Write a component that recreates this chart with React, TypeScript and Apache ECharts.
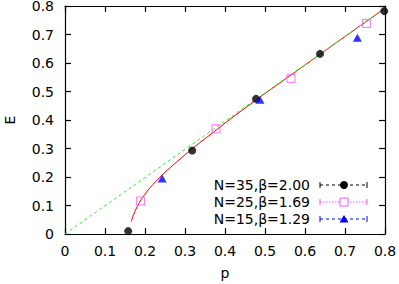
import React, { useEffect, useRef } from "react";
import * as echarts from "echarts";

const legendNames = ["N=35,β=2.00", "N=25,β=1.69", "N=15,β=1.29"];

const n35P = [0.158, 0.318, 0.4775, 0.6375, 0.798];
const n35E = [0.01, 0.293, 0.474, 0.632, 0.782];

const n25P = [0.189, 0.3775, 0.565, 0.754];
const n25E = [0.116, 0.369, 0.546, 0.739];

const n15P = [0.243, 0.4875, 0.731];
const n15E = [0.195, 0.471, 0.689];

const fitP = [0.166, 0.17, 0.175, 0.18, 0.185, 0.19, 0.2, 0.21, 0.22, 0.23, 0.24, 0.25, 0.26, 0.28, 0.3, 0.32, 0.34, 0.36, 0.38, 0.4, 0.43, 0.46, 0.5, 0.6, 0.7, 0.8];
const fitE = [0.044, 0.063, 0.08, 0.095, 0.108, 0.12, 0.14, 0.158, 0.174, 0.189, 0.203, 0.217, 0.229, 0.254, 0.278, 0.301, 0.324, 0.345, 0.367, 0.389, 0.421, 0.452, 0.493, 0.593, 0.693, 0.792];

const lineP = [0, 0.8];
const lineE = [0, 0.792];

const zip = (a: number[], b: number[]) => a.map((v, i) => [v, b[i]]);

const FONT = "DejaVu Sans";
const BLACK = "#000000";
const PINK = "#ff50ff";
const BLUE = "#0000ff";
const RED = "#ff0000";
const GREEN = "#22ee22";

export default function App() {
  const ref = useRef<HTMLDivElement>(null);
  useEffect(() => {
    if (!ref.current) return;
    const chart = echarts.init(ref.current, undefined, { renderer: "svg" });
    const axisCommon = {
      type: "value" as const,
      min: 0,
      max: 0.8,
      interval: 0.1,
      splitLine: { show: false },
      axisLine: { show: true, onZero: false, lineStyle: { color: "#000", width: 1.2 } },
      axisTick: { show: true, inside: true, length: 6, lineStyle: { color: "#000", width: 1.2 } },
    };
    const lx1 = 320, lx2 = 367, mx = 344, textX = 310;
    const rows = [185, 202, 219];
    const colors = [BLACK, PINK, BLUE];
    const dashes: any[] = [[3, 3], [1.5, 1.5], [3, 3]];
    const graphics: any[] = [];
    legendNames.forEach((name, i) => {
      const y = rows[i];
      graphics.push({
        type: "text",
        x: textX,
        y,
        style: { text: name, font: `14px "${FONT}"`, fill: "#000", textAlign: "right", textVerticalAlign: "middle" },
      });
      graphics.push({ type: "line", shape: { x1: lx1, y1: y, x2: lx2, y2: y }, style: { stroke: colors[i], lineWidth: 1, lineDash: dashes[i] } });
      graphics.push({ type: "line", shape: { x1: lx1, y1: y - 3, x2: lx1, y2: y + 3 }, style: { stroke: colors[i], lineWidth: 1 } });
      graphics.push({ type: "line", shape: { x1: lx2, y1: y - 3, x2: lx2, y2: y + 3 }, style: { stroke: colors[i], lineWidth: 1 } });
      if (i === 0) graphics.push({ type: "circle", shape: { cx: mx, cy: y, r: 4 }, style: { fill: BLACK } });
      if (i === 1) graphics.push({ type: "rect", shape: { x: mx - 4, y: y - 4, width: 8, height: 8 }, style: { fill: "#fff", stroke: PINK, lineWidth: 1 } });
      if (i === 2) graphics.push({ type: "polygon", shape: { points: [[mx, y - 4], [mx - 4.5, y + 3.5], [mx + 4.5, y + 3.5]] }, style: { fill: BLUE } });
    });

    chart.setOption({
      animation: false,
      backgroundColor: "#fff",
      textStyle: { fontFamily: FONT },
      grid: { left: 65, right: 14, top: 6, bottom: 50, containLabel: false, outerBoundsMode: "none" },
      xAxis: [
        {
          ...axisCommon,
          position: "bottom",
          name: "p",
          nameLocation: "middle",
          nameGap: 32,
          nameTextStyle: { fontSize: 14, color: "#000", fontFamily: FONT },
          axisLabel: { fontSize: 14, color: "#000", margin: 10, fontFamily: FONT, formatter: (v: number) => String(Math.round(v * 10) / 10) },
        },
        { ...axisCommon, position: "top", axisLabel: { show: false } },
      ],
      yAxis: [
        {
          ...axisCommon,
          position: "left",
          name: "E",
          nameLocation: "middle",
          nameGap: 48,
          nameTextStyle: { fontSize: 14, color: "#000", fontFamily: FONT },
          axisLabel: { fontSize: 14, lineHeight: 12, color: "#000", margin: 11, fontFamily: FONT, formatter: (v: number) => String(Math.round(v * 10) / 10) },
        },
        { ...axisCommon, position: "right", axisLabel: { show: false } },
      ],
      series: [
        {
          type: "line",
          data: zip(fitP, fitE),
          smooth: false,
          showSymbol: false,
          symbol: "none",
          lineStyle: { color: RED, width: 1 },
          z: 3,
        },
        {
          type: "line",
          data: zip(lineP, lineE),
          showSymbol: false,
          symbol: "none",
          lineStyle: { color: GREEN, width: 1, type: [3, 3] },
          z: 4,
        },
        {
          type: "scatter",
          data: zip(n35P, n35E),
          symbol: "circle",
          symbolSize: 8,
          itemStyle: { color: BLACK },
          z: 5,
        },
        {
          type: "scatter",
          data: zip(n25P, n25E),
          symbol: "rect",
          symbolSize: 8,
          itemStyle: { color: "rgba(255,255,255,0)", borderColor: PINK, borderWidth: 1 },
          z: 5,
        },
        {
          type: "scatter",
          data: zip(n15P, n15E),
          symbol: "triangle",
          symbolSize: [9, 8],
          itemStyle: { color: BLUE },
          z: 5,
        },
      ],
      graphic: graphics,
    });
    return () => chart.dispose();
  }, []);
  return <div ref={ref} style={{ width: 399, height: 284, position: "absolute", left: 0, top: 0 }} />;
}
